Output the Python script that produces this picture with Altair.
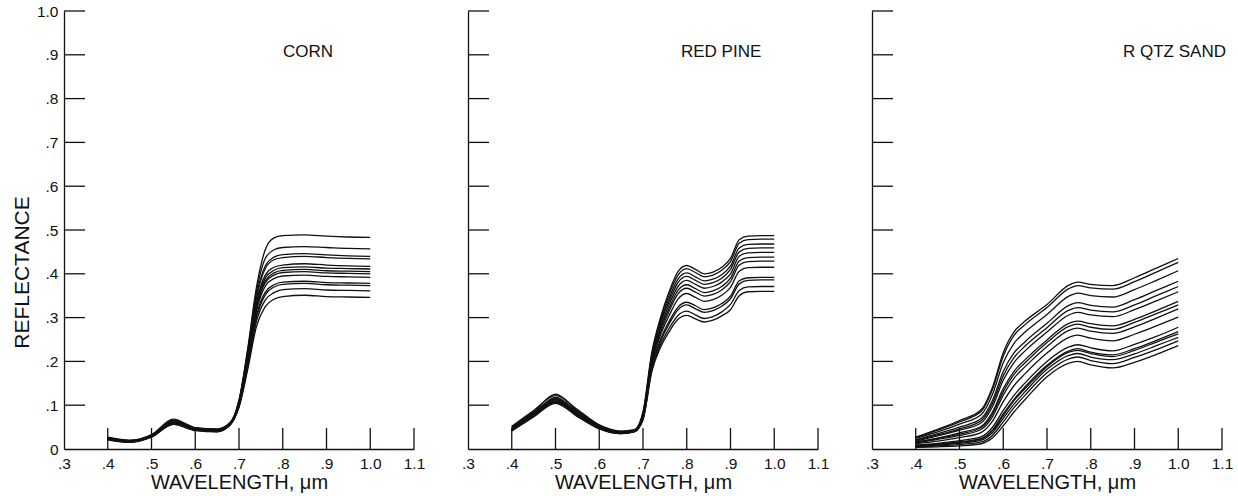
import altair as alt
import pandas as pd

# ---------------- data ----------------
W_CORN = [0.40, 0.45, 0.50, 0.55, 0.60, 0.65, 0.68, 0.70, 0.72, 0.74, 0.76, 0.78, 0.80, 0.85, 0.90, 0.95, 1.00]
CORN = [
    [0.025, 0.018, 0.030, 0.062, 0.045, 0.042, 0.058, 0.110, 0.230, 0.370, 0.455, 0.482, 0.487, 0.489, 0.486, 0.484, 0.483],
    [0.024, 0.017, 0.029, 0.060, 0.044, 0.041, 0.057, 0.108, 0.225, 0.360, 0.435, 0.455, 0.460, 0.462, 0.460, 0.458, 0.457],
    [0.026, 0.019, 0.032, 0.066, 0.048, 0.045, 0.060, 0.112, 0.222, 0.350, 0.418, 0.438, 0.444, 0.446, 0.443, 0.441, 0.440],
    [0.022, 0.016, 0.028, 0.058, 0.043, 0.040, 0.056, 0.106, 0.218, 0.345, 0.412, 0.432, 0.437, 0.440, 0.437, 0.435, 0.434],
    [0.025, 0.018, 0.031, 0.063, 0.046, 0.043, 0.058, 0.105, 0.212, 0.335, 0.397, 0.415, 0.420, 0.423, 0.420, 0.418, 0.417],
    [0.023, 0.017, 0.029, 0.061, 0.045, 0.042, 0.057, 0.104, 0.210, 0.330, 0.390, 0.408, 0.414, 0.416, 0.413, 0.412, 0.411],
    [0.027, 0.020, 0.033, 0.068, 0.049, 0.046, 0.061, 0.108, 0.208, 0.326, 0.384, 0.402, 0.408, 0.410, 0.407, 0.406, 0.405],
    [0.021, 0.015, 0.027, 0.056, 0.042, 0.039, 0.055, 0.102, 0.205, 0.322, 0.380, 0.397, 0.403, 0.405, 0.402, 0.401, 0.400],
    [0.024, 0.018, 0.030, 0.062, 0.046, 0.043, 0.058, 0.103, 0.200, 0.315, 0.372, 0.389, 0.395, 0.397, 0.394, 0.393, 0.392],
    [0.026, 0.019, 0.031, 0.064, 0.047, 0.044, 0.059, 0.100, 0.195, 0.305, 0.358, 0.375, 0.381, 0.383, 0.380, 0.379, 0.378],
    [0.022, 0.016, 0.028, 0.057, 0.043, 0.040, 0.055, 0.098, 0.192, 0.300, 0.352, 0.370, 0.376, 0.378, 0.375, 0.374, 0.373],
    [0.025, 0.018, 0.030, 0.060, 0.045, 0.042, 0.057, 0.097, 0.188, 0.292, 0.340, 0.357, 0.364, 0.366, 0.363, 0.362, 0.361],
    [0.023, 0.017, 0.029, 0.059, 0.044, 0.041, 0.056, 0.095, 0.182, 0.280, 0.325, 0.342, 0.348, 0.351, 0.348, 0.347, 0.346],
]

W_PINE = [0.40, 0.45, 0.50, 0.55, 0.60, 0.65, 0.68, 0.70, 0.72, 0.74, 0.76, 0.78, 0.80, 0.82, 0.84, 0.86, 0.88, 0.90, 0.92, 0.94, 0.97, 1.00]
PINE = [
    [0.050, 0.085, 0.125, 0.088, 0.054, 0.040, 0.043, 0.085, 0.220, 0.300, 0.360, 0.405, 0.419, 0.410, 0.400, 0.404, 0.415, 0.435, 0.478, 0.486, 0.487, 0.487],
    [0.046, 0.080, 0.118, 0.084, 0.050, 0.037, 0.041, 0.082, 0.215, 0.295, 0.353, 0.397, 0.412, 0.403, 0.393, 0.397, 0.408, 0.428, 0.470, 0.478, 0.479, 0.479],
    [0.052, 0.088, 0.122, 0.090, 0.055, 0.041, 0.044, 0.080, 0.210, 0.290, 0.345, 0.388, 0.402, 0.393, 0.384, 0.388, 0.398, 0.418, 0.459, 0.467, 0.468, 0.468],
    [0.044, 0.078, 0.112, 0.080, 0.048, 0.036, 0.040, 0.078, 0.207, 0.285, 0.338, 0.380, 0.394, 0.385, 0.376, 0.380, 0.390, 0.410, 0.450, 0.458, 0.459, 0.459],
    [0.048, 0.083, 0.116, 0.085, 0.052, 0.039, 0.042, 0.077, 0.203, 0.278, 0.330, 0.371, 0.385, 0.376, 0.367, 0.371, 0.381, 0.400, 0.440, 0.448, 0.449, 0.449],
    [0.042, 0.075, 0.108, 0.078, 0.047, 0.035, 0.039, 0.075, 0.200, 0.272, 0.322, 0.362, 0.375, 0.366, 0.357, 0.361, 0.371, 0.390, 0.429, 0.437, 0.438, 0.438],
    [0.050, 0.084, 0.114, 0.082, 0.051, 0.038, 0.042, 0.074, 0.197, 0.266, 0.315, 0.354, 0.367, 0.358, 0.349, 0.353, 0.363, 0.382, 0.420, 0.428, 0.429, 0.429],
    [0.045, 0.079, 0.110, 0.079, 0.049, 0.037, 0.040, 0.073, 0.193, 0.260, 0.305, 0.342, 0.355, 0.346, 0.337, 0.341, 0.351, 0.369, 0.406, 0.414, 0.415, 0.415],
    [0.043, 0.076, 0.106, 0.076, 0.047, 0.036, 0.040, 0.071, 0.188, 0.250, 0.292, 0.324, 0.335, 0.327, 0.318, 0.322, 0.332, 0.349, 0.384, 0.391, 0.392, 0.392],
    [0.047, 0.081, 0.110, 0.079, 0.049, 0.037, 0.041, 0.070, 0.185, 0.245, 0.286, 0.318, 0.329, 0.320, 0.312, 0.316, 0.326, 0.343, 0.377, 0.385, 0.386, 0.386],
    [0.041, 0.073, 0.104, 0.074, 0.046, 0.035, 0.039, 0.068, 0.180, 0.238, 0.276, 0.305, 0.315, 0.306, 0.298, 0.302, 0.313, 0.330, 0.362, 0.370, 0.371, 0.371],
    [0.044, 0.077, 0.106, 0.076, 0.047, 0.036, 0.040, 0.067, 0.176, 0.232, 0.268, 0.296, 0.305, 0.297, 0.290, 0.294, 0.304, 0.318, 0.350, 0.359, 0.360, 0.360],
]

W_SAND = [0.40, 0.45, 0.50, 0.55, 0.575, 0.60, 0.625, 0.65, 0.70, 0.75, 0.77, 0.80, 0.85, 0.90, 0.95, 1.00]
SAND = [
    [0.027, 0.045, 0.065, 0.090, 0.140, 0.220, 0.268, 0.292, 0.330, 0.374, 0.381, 0.376, 0.373, 0.391, 0.413, 0.435],
    [0.026, 0.043, 0.062, 0.086, 0.135, 0.212, 0.260, 0.284, 0.323, 0.366, 0.373, 0.368, 0.365, 0.382, 0.404, 0.426],
    [0.024, 0.039, 0.057, 0.079, 0.124, 0.197, 0.242, 0.267, 0.307, 0.349, 0.356, 0.350, 0.347, 0.364, 0.385, 0.407],
    [0.021, 0.035, 0.050, 0.070, 0.110, 0.177, 0.220, 0.245, 0.287, 0.328, 0.334, 0.328, 0.324, 0.341, 0.362, 0.383],
    [0.020, 0.032, 0.046, 0.065, 0.103, 0.167, 0.209, 0.235, 0.277, 0.317, 0.323, 0.317, 0.313, 0.329, 0.350, 0.371],
    [0.018, 0.030, 0.043, 0.060, 0.096, 0.157, 0.198, 0.224, 0.267, 0.306, 0.312, 0.306, 0.302, 0.318, 0.338, 0.359],
    [0.016, 0.025, 0.037, 0.052, 0.084, 0.138, 0.178, 0.204, 0.249, 0.287, 0.292, 0.286, 0.281, 0.296, 0.316, 0.337],
    [0.015, 0.024, 0.034, 0.049, 0.079, 0.131, 0.171, 0.197, 0.243, 0.280, 0.285, 0.278, 0.273, 0.289, 0.309, 0.329],
    [0.014, 0.022, 0.031, 0.045, 0.073, 0.123, 0.162, 0.188, 0.234, 0.271, 0.276, 0.269, 0.264, 0.279, 0.299, 0.320],
    [0.012, 0.018, 0.026, 0.038, 0.063, 0.108, 0.145, 0.172, 0.219, 0.255, 0.260, 0.253, 0.247, 0.262, 0.281, 0.301],
    [0.009, 0.013, 0.019, 0.028, 0.049, 0.088, 0.123, 0.151, 0.200, 0.233, 0.238, 0.231, 0.224, 0.239, 0.257, 0.278],
    [0.008, 0.011, 0.016, 0.024, 0.043, 0.080, 0.114, 0.142, 0.191, 0.224, 0.229, 0.221, 0.215, 0.229, 0.248, 0.268],
    [0.007, 0.011, 0.015, 0.023, 0.041, 0.076, 0.111, 0.138, 0.188, 0.221, 0.225, 0.218, 0.211, 0.225, 0.244, 0.263],
    [0.006, 0.009, 0.013, 0.020, 0.037, 0.070, 0.103, 0.131, 0.182, 0.214, 0.218, 0.210, 0.204, 0.217, 0.236, 0.255],
    [0.005, 0.007, 0.010, 0.016, 0.031, 0.062, 0.095, 0.123, 0.174, 0.206, 0.210, 0.202, 0.195, 0.209, 0.227, 0.247],
    [0.004, 0.005, 0.007, 0.012, 0.025, 0.053, 0.085, 0.113, 0.165, 0.196, 0.200, 0.192, 0.185, 0.198, 0.216, 0.236],
]

PANEL_TITLES = ["CORN", "RED PINE", "R QTZ SAND"]
X_LABEL_VALUES = [0.3, 0.4, 0.5, 0.6, 0.7, 0.8, 0.9, 1.0, 1.1]
X_TICK_VALUES = [0.4, 0.5, 0.6, 0.7, 0.8, 0.9, 1.0, 1.1]
Y_LABEL_VALUES = [0.0, 0.1, 0.2, 0.3, 0.4, 0.5, 0.6, 0.7, 0.8, 0.9, 1.0]
Y_TICK_VALUES = [0.1, 0.2, 0.3, 0.4, 0.5, 0.6, 0.7, 0.8, 0.9, 1.0]

X_TITLE = "WAVELENGTH, \u03bcm"
Y_TITLE = "REFLECTANCE"

# ---------------- styling ----------------
FONT = "Liberation Sans"
W, H = 350, 438
TICK_LEN = 21
INK = "#111111"

xscale = alt.Scale(domain=[0.3, 1.1], nice=False, zero=False)
yscale = alt.Scale(domain=[0.0, 1.0], nice=False, zero=False)

X_EXPR = ("datum.value >= 0.99 ? format(datum.value, '.1f') : "
          "replace(format(datum.value, '.1f'), '0.', '.')")
Y_EXPR = ("datum.value == 0 ? '0' : datum.value >= 0.99 ? format(datum.value, '.1f') : "
          "replace(format(datum.value, '.1f'), '0.', '.')")


def to_long(ws, curves):
    rows = []
    for i, c in enumerate(curves):
        for w, r in zip(ws, c):
            rows.append({"curve": i, "w": w, "r": r})
    return pd.DataFrame(rows)


def panel(ws, curves, title, show_y, title_dx, title_dy, title_size):
    df = to_long(ws, curves)
    xaxis = alt.Axis(
        values=X_LABEL_VALUES, labelExpr=X_EXPR, tickSize=0, grid=False,
        domainColor=INK, domainWidth=1.3, labelColor=INK, labelFont=FONT,
        labelFontSize=15.5, labelPadding=7, labelFlush=False,
        title=X_TITLE, titleFont=FONT, titleFontSize=20, titleFontWeight="normal",
        titleColor=INK, titlePadding=1,
    )
    if show_y:
        yaxis = alt.Axis(
            values=Y_LABEL_VALUES, labelExpr=Y_EXPR, tickSize=0, grid=False,
            domainColor=INK, domainWidth=1.3, labelColor=INK, labelFont=FONT,
            labelFontSize=15.5, labelPadding=6, labelFlush=False,
            title=Y_TITLE, titleFont=FONT, titleFontSize=21, titleFontWeight="normal",
            titleColor=INK, titleX=-42, titleY=261, titleBaseline="middle",
        )
    else:
        yaxis = alt.Axis(
            values=Y_LABEL_VALUES, labels=False, tickSize=0, grid=False,
            domainColor=INK, domainWidth=1.3, title=None,
        )

    lines = alt.Chart(df).mark_line(
        color=INK, strokeWidth=1.3, interpolate="monotone"
    ).encode(
        x=alt.X("w:Q", scale=xscale, axis=xaxis),
        y=alt.Y("r:Q", scale=yscale, axis=yaxis),
        detail="curve:N",
    )
    xt = alt.Chart(pd.DataFrame({"w": X_TICK_VALUES})).mark_rule(
        color=INK, strokeWidth=1.3
    ).encode(x=alt.X("w:Q", scale=xscale), y=alt.value(H), y2=alt.value(H - TICK_LEN))
    yt = alt.Chart(pd.DataFrame({"r": Y_TICK_VALUES})).mark_rule(
        color=INK, strokeWidth=1.3
    ).encode(y=alt.Y("r:Q", scale=yscale), x=alt.value(0), x2=alt.value(TICK_LEN))

    return alt.layer(lines, xt, yt).properties(
        width=W, height=H,
        title=alt.TitleParams(
            title, anchor="start", frame="group", dx=title_dx, dy=title_dy, offset=0,
            font=FONT, fontSize=title_size, fontWeight="normal", color=INK,
            baseline="alphabetic",
        ),
    )


p1 = panel(W_CORN, CORN, PANEL_TITLES[0], True, 219, 70, 17)
p2 = panel(W_PINE, PINE, PANEL_TITLES[1], False, 213, 64, 17)
p3 = panel(W_SAND, SAND, PANEL_TITLES[2], False, 251, 64, 17)

chart = alt.hconcat(p1, p2, p3, spacing=54, bounds="flush").properties(
    padding={"left": 11, "top": 4, "right": 0, "bottom": 0},
).configure(background="white").configure_view(stroke=None)

chart.save("out.html", embed_options={"renderer": "svg", "actions": False})
